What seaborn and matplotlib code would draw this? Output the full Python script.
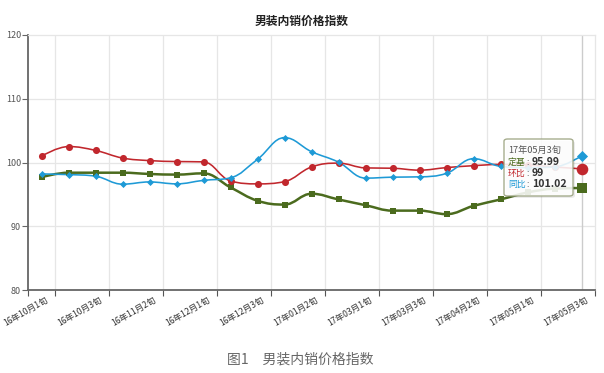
import numpy as np
import pandas as pd
import matplotlib
matplotlib.use('Agg')
import matplotlib.pyplot as plt
from matplotlib.path import Path
from matplotlib.patches import PathPatch, FancyBboxPatch
import matplotlib.transforms as mtransforms
import seaborn as sns

# Data
periods = ['16年10月1旬', '16年10月2旬', '16年10月3旬', '16年11月1旬', '16年11月2旬',
           '16年11月3旬', '16年12月1旬', '16年12月2旬', '16年12月3旬', '17年01月1旬',
           '17年01月2旬', '17年01月3旬', '17年03月1旬', '17年03月2旬', '17年03月3旬',
           '17年04月1旬', '17年04月2旬', '17年04月3旬', '17年05月1旬', '17年05月2旬',
           '17年05月3旬']
dingji = [97.7, 98.4, 98.4, 98.4, 98.2, 98.1, 98.3, 96.1, 94.0, 93.4, 95.1,
          94.2, 93.3, 92.45, 92.45, 91.9, 93.2, 94.2, 95.3, 95.9, 95.99]
huanbi = [101.0, 102.5, 101.9, 100.7, 100.3, 100.15, 100.1, 97.1, 96.65, 97.0, 99.3,
          99.9, 99.15, 99.1, 98.8, 99.2, 99.5, 99.7, 99.6, 99.3, 99.0]
tongbi = [98.2, 98.1, 97.85, 96.6, 96.95, 96.65, 97.2, 97.6, 100.5, 103.9, 101.7,
          100.05, 97.55, 97.7, 97.75, 98.3, 100.6, 99.4, 99.2, 99.3, 101.02]

series_names = ['定基', '环比', '同比']
series_colors = ['#4B6B1E', '#C1272D', '#1E9AD6']
series_markers = ['s', 'o', 'D']

df = pd.DataFrame({'idx': range(len(periods)), 'period': periods,
                   '定基': dingji, '环比': huanbi, '同比': tongbi})

sns.set_theme(style='white')
plt.rcParams['font.family'] = ['Noto Sans CJK SC', 'DejaVu Sans']


def spline_path(xs, ys, smoothing=1.5):
    # bezier control points like a highcharts "spline" series
    n = len(xs)
    denom = smoothing + 1
    left = [(xs[i], ys[i]) for i in range(n)]
    right = [(xs[i], ys[i]) for i in range(n)]
    for i in range(1, n - 1):
        px, py = xs[i], ys[i]
        lx, ly = xs[i - 1], ys[i - 1]
        nx, ny = xs[i + 1], ys[i + 1]
        lcx = (smoothing * px + lx) / denom
        lcy = (smoothing * py + ly) / denom
        rcx = (smoothing * px + nx) / denom
        rcy = (smoothing * py + ny) / denom
        if rcx != lcx:
            corr = (rcy - lcy) * (rcx - px) / (rcx - lcx) + py - rcy
            lcy += corr
            rcy += corr
        if lcy > ly and lcy > py:
            lcy = max(ly, py)
            rcy = 2 * py - lcy
        elif lcy < ly and lcy < py:
            lcy = min(ly, py)
            rcy = 2 * py - lcy
        if rcy > ny and rcy > py:
            rcy = max(ny, py)
            lcy = 2 * py - rcy
        elif rcy < ny and rcy < py:
            rcy = min(ny, py)
            lcy = 2 * py - rcy
        left[i] = (lcx, lcy)
        right[i] = (rcx, rcy)
    verts = [(xs[0], ys[0])]
    codes = [Path.MOVETO]
    for i in range(1, n):
        verts += [right[i - 1], left[i], (xs[i], ys[i])]
        codes += [Path.CURVE4] * 3
    return Path(verts, codes)


fig = plt.figure(figsize=(6.04, 3.73), dpi=100)
ax = fig.add_axes([28 / 604, 83 / 373, 567 / 604, 255 / 373])

ax.set_xlim(-0.5, 20.5)
ax.set_ylim(80, 120)

# grid
for g in np.arange(0.5, 19, 2):
    ax.axvline(g, color='#e6e6e6', lw=0.9, zorder=0)
for g in [90, 100, 110]:
    ax.axhline(g, color='#e6e6e6', lw=0.9, zorder=0)
# tooltip crosshair
ax.axvline(20, color='#cccccc', lw=1.0, zorder=0.5)

widths = [1.8, 1.15, 1.15]
sizes = [24, 26, 13]
last_sizes = [55, 70, 32]
for name, color, marker, lw, s, ls in zip(series_names, series_colors, series_markers,
                                          widths, sizes, last_sizes):
    path = spline_path(df['idx'].to_numpy(float), df[name].to_numpy(float))
    ax.add_patch(PathPatch(path, facecolor='none', edgecolor=color, lw=lw, zorder=2,
                           capstyle='round', joinstyle='round'))
    sns.scatterplot(data=df.iloc[:-1], x='idx', y=name, marker=marker, s=s, color=color,
                    edgecolor=color, linewidth=0, ax=ax, zorder=3)
    sns.scatterplot(data=df.iloc[-1:], x='idx', y=name, marker=marker, s=ls, color=color,
                    edgecolor=color, linewidth=0, ax=ax, zorder=3)

# axes styling
ax.set_xlabel('')
ax.set_ylabel('')
ax.set_yticks([80, 90, 100, 110, 120])
ax.tick_params(axis='y', direction='out', length=4, width=0.8, color='#666666',
               labelsize=6.5, labelcolor='#555555', pad=1, left=True)
ax.set_xticks(range(0, 21, 2))
ax.set_xticklabels(periods[::2], rotation=30, ha='right', va='top',
                   rotation_mode='anchor', fontsize=6.2, color='#333333')
ax.set_xticks(np.concatenate([[-0.5], np.arange(0.5, 19, 2), [20.5]]), minor=True)
ax.tick_params(axis='x', which='major', length=0, pad=4)
ax.tick_params(axis='x', which='minor', direction='out', length=4, width=0.8,
               color='#555555', bottom=True)
offset = mtransforms.ScaledTranslation(4 / 100, 0, fig.dpi_scale_trans)
for lab in ax.get_xticklabels():
    lab.set_transform(lab.get_transform() + offset)

for side in ['left', 'bottom']:
    ax.spines[side].set_color('#666666')
    ax.spines[side].set_linewidth(1.3)
for side in ['top', 'right']:
    ax.spines[side].set_color('#e6e6e6')
    ax.spines[side].set_linewidth(0.9)


# tooltip
def fx(px):
    return px / 604


def fy(py):
    return 1 - py / 373


shadow = FancyBboxPatch((fx(506), fy(198)), fx(69), 57 / 373,
                        boxstyle='round,pad=0,rounding_size=0.006',
                        transform=fig.transFigure, facecolor='#000000', alpha=0.08,
                        edgecolor='none', zorder=5)
box = FancyBboxPatch((fx(504), fy(196)), fx(69), 57 / 373,
                     boxstyle='round,pad=0,rounding_size=0.006',
                     transform=fig.transFigure, facecolor='white', alpha=0.88,
                     edgecolor='#9aa27f', lw=1.0, zorder=6)
fig.patches.extend([shadow, box])
fig.text(fx(508), fy(150.7), periods[-1], fontsize=6.6, color='#555555',
         va='center', ha='left', zorder=7)
tips = [('定基', dingji[-1]), ('环比', huanbi[-1]), ('同比', tongbi[-1])]
for (name, val), color, py in zip(tips, series_colors, [162.3, 173.3, 184.3]):
    fig.text(fx(508), fy(py), name, fontsize=6.4, color=color, va='center', ha='left', zorder=7)
    fig.text(fx(526), fy(py), ':', fontsize=6.4, color='#333333', va='center', ha='left', zorder=7)
    fig.text(fx(532), fy(py), f'{val:g}', fontsize=7.6, color='#333333', fontweight='bold',
             va='center', ha='left', zorder=7)

fig.text(fx(302), fy(21), '男装内销价格指数', fontsize=8.5, fontweight='bold',
         color='#222222', ha='center', va='center')
fig.text(fx(300), fy(360), '图1\u3000男装内销价格指数', fontsize=10, color='#666666',
         ha='center', va='center')

fig.savefig('out.png', dpi=100)
